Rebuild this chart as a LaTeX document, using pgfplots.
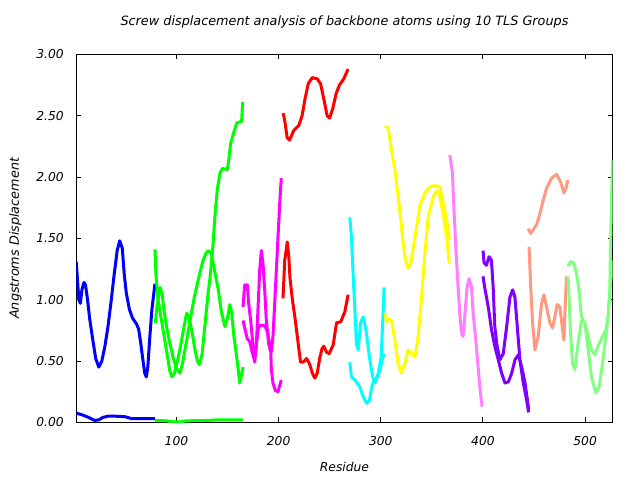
\documentclass[border=0pt]{standalone}
\usepackage{pgfplots}
\pgfplotsset{compat=1.18}
\usepackage{fontspec}
\setmainfont{DejaVu Sans}
\definecolor{cBlue}{HTML}{0000FF}
\definecolor{cGreen}{HTML}{00FF00}
\definecolor{cMag}{HTML}{FF00FF}
\definecolor{cRed}{HTML}{FF0000}
\definecolor{cCyan}{HTML}{00FFFF}
\definecolor{cYel}{HTML}{FFFF00}
\definecolor{cPink}{HTML}{FF80FF}
\definecolor{cViol}{HTML}{8000FF}
\definecolor{cSalm}{HTML}{FF9980}
\definecolor{cLgr}{HTML}{80FF80}
\begin{document}
\begin{tikzpicture}
\useasboundingbox (-76.3bp,-57.7bp) rectangle (563.7bp,422.3bp);
\begin{axis}[
  at={(0,0)}, anchor=south west,
  scale only axis, width=536.4bp, height=368bp,
  xmin=2, xmax=527, ymin=0, ymax=3,
  xtick={100,200,300,400,500},
  ytick={0,0.5,1,1.5,2,2.5,3},
  tick align=inside, major tick length=5bp,
  axis line style={line width=0.9bp},
  every tick/.style={black, line width=0.9bp},
  /pgf/number format/assume math mode=true,
  ticklabel style={font=\fontsize{12.3bp}{14bp}\selectfont\itshape},
  yticklabel style={/pgf/number format/fixed, /pgf/number format/fixed zerofill, /pgf/number format/precision=2, anchor=east, inner sep=0pt, xshift=-12.3bp},
  xticklabel style={anchor=base, inner sep=0pt, yshift=-22.7bp},
  title={Screw displacement analysis of backbone atoms using 10 TLS Groups},
  title style={font=\fontsize{12.8bp}{14bp}\selectfont\itshape, at={(0.5,1)}, anchor=base, yshift=23bp, inner sep=0pt},
  xlabel={Residue},
  xlabel style={font=\fontsize{12.3bp}{14bp}\selectfont\itshape, at={(axis description cs:0.5,0)}, anchor=base, yshift=-48.7bp, inner sep=0pt},
  ylabel={Angstroms Displacement},
  ylabel style={font=\fontsize{12.8bp}{14bp}\selectfont\itshape, at={([xshift=-57.3bp]axis description cs:0,0.5)}, anchor=base, inner sep=0pt},
  every axis plot/.append style={line width=3bp, mark=none, line join=round},
  clip=true,
]
% Group 1 blue
\addplot[cBlue] coordinates {(2,1.31)(3,1.18)(4.5,1.0)(6,0.97)(7.5,1.08)(9.5,1.14)(11,1.12)(13,1.0)(15,0.85)(18,0.68)(21,0.52)(24,0.45)(27,0.5)(30,0.62)(33,0.78)(36,0.98)(39,1.2)(42,1.4)(44.5,1.48)(47,1.42)(49,1.2)(51,1.05)(54,0.92)(57,0.85)(61,0.8)(63,0.76)(65,0.65)(67,0.52)(69,0.4)(70.5,0.37)(72,0.45)(74,0.7)(76,0.92)(79,1.13)};
\addplot[cBlue] coordinates {(2,0.075)(8,0.06)(14,0.04)(20,0.015)(24,0.02)(28,0.04)(33,0.05)(40,0.05)(50,0.045)(56,0.03)(65,0.03)(79,0.03)};
% Group 2 green
\addplot[cGreen] coordinates {(79,1.41)(80,1.2)(82,1.0)(85,0.85)(88,0.7)(91,0.55)(93.5,0.42)(95.5,0.37)(98,0.4)(101,0.5)(104,0.62)(107,0.76)(110,0.89)(112,0.86)(115,0.75)(118,0.6)(120.5,0.5)(122.5,0.47)(125,0.55)(128,0.8)(131,1.05)(133,1.19)(135.4,1.40)(137.7,1.68)(140,1.9)(142.6,2.03)(145,2.07)(149.7,2.06)(151,2.12)(153,2.27)(156,2.36)(159,2.44)(162,2.45)(163.8,2.45)(164.8,2.61)};
\addplot[cGreen] coordinates {(79.3,0.81)(81,0.95)(83.9,1.1)(86,1.05)(88,0.9)(91,0.75)(93.7,0.64)(97,0.52)(100,0.44)(103.4,0.40)(106,0.48)(109,0.62)(113,0.81)(117,1.0)(121,1.15)(126,1.32)(129,1.38)(131,1.40)(134,1.38)(137,1.25)(141,1.08)(144,0.9)(147.5,0.78)(150,0.85)(152.3,0.96)(154,0.9)(156,0.72)(159,0.53)(162,0.32)(163.5,0.38)(165.4,0.45)};
\addplot[cGreen] coordinates {(79,0.015)(90,0.012)(97,0.004)(104,0.004)(110,0.012)(130,0.015)(140,0.02)(165,0.02)};
% Group 3 magenta
\addplot[cMag] coordinates {(165.2,0.94)(166.8,1.12)(169.4,1.12)(170.7,0.97)(172.7,0.83)(175,0.62)(176.6,0.49)(178.2,0.62)(179.8,0.92)(181.5,1.24)(183.1,1.40)(184.7,1.30)(186.4,1.08)(188,0.83)(190.3,0.64)(192.3,0.575)(192.9,0.43)(194.5,0.32)(196.8,0.26)(199.4,0.25)(202.6,0.345)};
\addplot[cMag] coordinates {(165.2,0.83)(167.4,0.75)(169.4,0.68)(171.7,0.66)(174,0.575)(175.9,0.52)(177.8,0.6)(179.8,0.75)(181.5,0.79)(186.4,0.79)(189.6,0.725)(191.3,0.62)(192.9,0.575)(194.5,0.70)(196.2,0.97)(197.8,1.24)(199.4,1.51)(201.1,1.785)(202.6,1.99)};
% Group 4 red
\addplot[cRed] coordinates {(204.5,2.52)(206,2.46)(208.4,2.32)(210.7,2.30)(214.9,2.38)(219.8,2.42)(223,2.50)(225.7,2.63)(229,2.76)(232.9,2.81)(237.8,2.80)(241.1,2.76)(244.4,2.63)(247.5,2.50)(249.9,2.48)(253.1,2.56)(256.3,2.68)(259.6,2.75)(263.8,2.80)(268,2.88)};
\addplot[cRed] coordinates {(204.3,1.01)(206,1.32)(208.5,1.47)(210,1.35)(211.1,1.18)(213.5,1.0)(215.9,0.86)(219.2,0.64)(221.5,0.49)(224,0.49)(227.4,0.52)(230.6,0.47)(233,0.4)(235.5,0.36)(237.8,0.40)(240.4,0.53)(242.5,0.6)(244.3,0.62)(247,0.57)(249.5,0.56)(253.4,0.63)(256.7,0.81)(260.9,0.82)(264.8,0.90)(268,1.04)};
% Group 5 cyan
\addplot[cCyan] coordinates {(269.7,1.67)(271.3,1.51)(272.9,1.21)(274.6,0.92)(276.2,0.64)(277.9,0.59)(280.2,0.81)(282.7,0.86)(285.6,0.75)(288.9,0.53)(292.1,0.37)(294.4,0.32)(297.6,0.40)(300.3,0.53)(301.9,0.81)(303.2,1.10)};
\addplot[cCyan] coordinates {(269.7,0.49)(271.3,0.37)(274.6,0.345)(279.5,0.29)(282.7,0.21)(286.2,0.155)(288.9,0.18)(291.2,0.29)(293.5,0.345)(296.8,0.37)(299.4,0.43)(301.9,0.53)(303.3,0.56)};
% Group 6 yellow
\addplot[cYel] coordinates {(304,2.415)(307.2,2.40)(310.5,2.22)(313.8,2.06)(317,1.84)(319.6,1.65)(321.9,1.46)(324.2,1.32)(326.8,1.255)(329.4,1.30)(333.5,1.51)(338.2,1.76)(343.1,1.87)(348,1.92)(353,1.93)(357.9,1.92)(361.1,1.785)(364.5,1.65)(367,1.49)};
\addplot[cYel] coordinates {(304,0.89)(305.6,0.82)(308,0.84)(310.5,0.83)(313.8,0.67)(317,0.48)(320.3,0.40)(323.6,0.48)(326.8,0.59)(330.1,0.56)(333.4,0.53)(336.6,0.70)(339.9,1.02)(343.2,1.38)(346.5,1.68)(351.4,1.84)(354.7,1.89)(357.9,1.84)(361.1,1.70)(364.5,1.51)(367,1.30)};
% Group 7 pink
\addplot[cPink] coordinates {(367.6,2.18)(370.2,2.03)(371.5,1.76)(373.6,1.40)(375.7,1.105)(377.3,0.89)(379,0.725)(380.6,0.70)(382.2,0.86)(384.5,1.105)(386.4,1.17)(388.8,1.105)(390.4,0.89)(393,0.67)(395.3,0.45)(396.9,0.29)(399.1,0.127)};
% Group 8 violet
\addplot[cViol] coordinates {(400.1,1.40)(401.1,1.30)(403.4,1.28)(406,1.35)(408.3,1.32)(410,1.105)(411.6,0.78)(413.9,0.62)(416.6,0.51)(419.9,0.56)(423.2,0.78)(426.4,1.02)(429.1,1.08)(431.3,1.02)(433.6,0.78)(436.2,0.51)(439.5,0.32)(442.1,0.21)(444.4,0.10)};
\addplot[cViol] coordinates {(400.1,1.19)(401.7,1.1)(405.2,0.94)(408.5,0.75)(411.6,0.62)(415,0.51)(418.3,0.40)(421.6,0.32)(424.9,0.33)(428.1,0.40)(431.4,0.51)(434.7,0.55)(438,0.45)(441.2,0.32)(444.4,0.13)(444.6,0.08)};
% Group 9 salmon
\addplot[cSalm] coordinates {(444.4,1.58)(446.6,1.54)(452.5,1.61)(455.7,1.70)(459,1.81)(462.3,1.91)(467.2,1.99)(472.1,2.02)(476,1.96)(479.2,1.87)(481.8,1.92)(482.8,1.975)};
\addplot[cSalm] coordinates {(445.2,1.43)(446.6,1.13)(448.6,0.81)(450.9,0.59)(454.1,0.70)(457.4,0.97)(459.7,1.04)(462.3,0.94)(465.5,0.81)(468.2,0.77)(470.4,0.86)(472.7,0.96)(475.3,0.94)(478,0.75)(479.2,0.67)(480.5,0.94)(481.8,1.19)};
% Group 10 light green
\addplot[cLgr] coordinates {(483.3,1.27)(485.6,1.31)(488.9,1.30)(491.5,1.215)(494,1.08)(496.4,0.86)(499.8,0.81)(503,0.70)(506.2,0.59)(509.5,0.55)(512.6,0.62)(517,0.70)(520.3,0.75)(522.5,0.86)(524.2,1.08)(524.8,1.40)(525.8,1.81)(526.8,2.14)};
\addplot[cLgr] coordinates {(483.3,1.19)(484.4,1.00)(485.7,0.73)(487.7,0.48)(489.9,0.43)(493.1,0.64)(496.4,0.83)(499.8,0.81)(503,0.59)(506.2,0.37)(510.5,0.24)(513.8,0.29)(517,0.48)(520.3,0.70)(522.5,0.86)(524.8,1.13)(526.8,1.32)};
\end{axis}
\end{tikzpicture}
\end{document}
